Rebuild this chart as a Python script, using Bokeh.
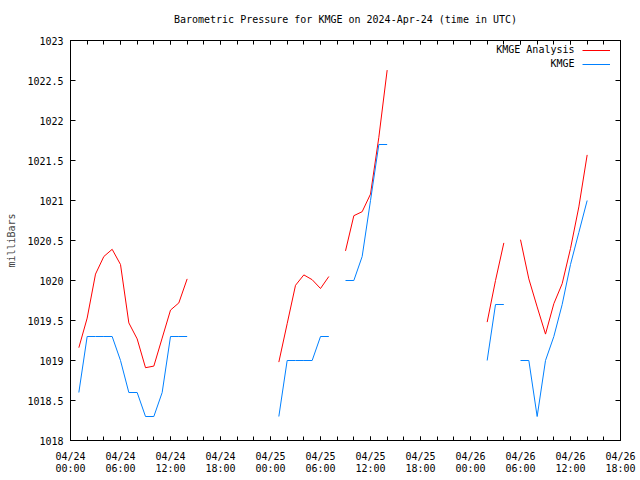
from datetime import datetime, timedelta

from bokeh.plotting import figure
from bokeh.models import (ColumnDataSource, Range1d, FixedTicker, DatetimeTickFormatter,
                          NumeralTickFormatter, CustomJSTickFormatter, DatetimeAxis,
                          LinearAxis, Legend, LegendItem, Label)
from bokeh.embed import file_html
from bokeh.resources import INLINE

nan = float("nan")

# ---------------- data ----------------
title_text = "Barometric Pressure for KMGE on 2024-Apr-24 (time in UTC)"
start_time = datetime(2024, 4, 24, 0, 0)
end_time = datetime(2024, 4, 26, 18, 0)

# hours after 2024-04-24 00:00 UTC (hourly values, NaN = no data)
hour_offsets = list(range(1, 63))

analysis_mb = [
    1019.16, 1019.53, 1020.08, 1020.30, 1020.39, 1020.20, 1019.47, 1019.27, 1018.91, 1018.93,
    1019.28, 1019.63, 1019.72, 1020.02,
    nan, nan, nan, nan, nan, nan, nan, nan, nan, nan,
    1018.98, 1019.46, 1019.94, 1020.07, 1020.01, 1019.90, 1020.05,
    nan,
    1020.37, 1020.81, 1020.86, 1021.08, 1021.79, 1022.63,
    nan, nan, nan, nan, nan, nan, nan, nan, nan, nan, nan,
    1019.48, 1020.00, 1020.47,
    nan,
    1020.51, 1020.02, 1019.67, 1019.33, 1019.71, 1019.96, 1020.40, 1020.92, 1021.57,
]

observed_mb = [
    1018.6, 1019.3, 1019.3, 1019.3, 1019.3, 1019.0, 1018.6, 1018.6, 1018.3, 1018.3,
    1018.6, 1019.3, 1019.3, 1019.3,
    nan, nan, nan, nan, nan, nan, nan, nan, nan, nan,
    1018.3, 1019.0, 1019.0, 1019.0, 1019.0, 1019.3, 1019.3,
    nan,
    1020.0, 1020.0, 1020.3, 1021.0, 1021.7, 1021.7,
    nan, nan, nan, nan, nan, nan, nan, nan, nan, nan, nan,
    1019.0, 1019.7, 1019.7,
    nan,
    1019.0, 1019.0, 1018.3, 1019.0, 1019.3, 1019.7, 1020.2, 1020.6, 1021.0,
]

series_labels = ["KMGE Analysis", "KMGE"]
series_colors = ["#ff0000", "#0080ff"]

x_major_hours = [0, 6, 12, 18, 24, 30, 36, 42, 48, 54, 60, 66]
x_minor_hours = [h for h in range(0, 67, 2)]
y_ticks = [1018, 1018.5, 1019, 1019.5, 1020, 1020.5, 1021, 1021.5, 1022, 1022.5, 1023]
y_label = "milliBars"

# ---------------- build ----------------
EPOCH = datetime(1970, 1, 1)


def ms(h):
    return ((start_time + timedelta(hours=h)) - EPOCH).total_seconds() * 1000.0


times = [start_time + timedelta(hours=h) for h in hour_offsets]
src = ColumnDataSource(dict(time=times, analysis=analysis_mb, observed=observed_mb))

FONT = "DejaVu Sans Mono"
FS = "10px"

p = figure(width=640, height=480, x_axis_type="datetime",
           x_range=Range1d(start_time, end_time), y_range=Range1d(1018, 1023),
           output_backend="svg", toolbar_location=None,
           min_border_left=70, min_border_right=20, min_border_top=40, min_border_bottom=40)
p.grid.visible = False
p.outline_line_color = "black"
p.background_fill_color = "white"
p.border_fill_color = "white"

x_ticker = FixedTicker(ticks=[ms(h) for h in x_major_hours], minor_ticks=[ms(h) for h in x_minor_hours])
y_ticker = FixedTicker(ticks=y_ticks, minor_ticks=[])


def style_axis(ax, tick_len, minor_len):
    ax.major_tick_in = tick_len
    ax.major_tick_out = 0
    ax.minor_tick_in = minor_len
    ax.minor_tick_out = 0
    ax.axis_line_color = "black"
    ax.major_tick_line_color = "black"
    ax.minor_tick_line_color = "black"
    ax.major_label_text_font = FONT
    ax.major_label_text_font_size = FS
    ax.major_label_text_color = "black"


def dt_fmt(fmt):
    return DatetimeTickFormatter(microseconds=fmt, milliseconds=fmt, seconds=fmt, minsec=fmt,
                                 minutes=fmt, hourmin=fmt, hours=fmt, days=fmt, months=fmt, years=fmt)


# bottom axis (dates)
xa = p.xaxis[0]
xa.ticker = x_ticker
xa.formatter = dt_fmt("%m/%d")
style_axis(xa, 4, 4)
xa.major_label_standoff = 10

# second bottom axis (times)
xa2 = DatetimeAxis(ticker=x_ticker, formatter=dt_fmt("%H:%M"))
style_axis(xa2, 0, 0)
xa2.axis_line_color = None
xa2.major_tick_line_color = None
xa2.minor_tick_line_color = None
xa2.major_label_standoff = -2
p.add_layout(xa2, "below")

# left axis
ya = p.yaxis[0]
ya.ticker = y_ticker
ya.formatter = NumeralTickFormatter(format="0.[0]")
style_axis(ya, 5, 0)
ya.major_label_standoff = 7
ya.axis_label = y_label
ya.axis_label_text_font = FONT
ya.axis_label_text_font_size = FS
ya.axis_label_text_font_style = "normal"
ya.axis_label_standoff = 7

empty = CustomJSTickFormatter(code="return ''")

# mirror axes (top one carries the chart title)
xt = DatetimeAxis(ticker=x_ticker, formatter=empty)
style_axis(xt, 4, 4)
xt.major_label_standoff = 0
xt.axis_label = title_text
xt.axis_label_text_font = FONT
xt.axis_label_text_font_size = FS
xt.axis_label_text_font_style = "normal"
xt.axis_label_text_color = "black"
xt.axis_label_standoff = 16
p.add_layout(xt, "above")

yr = LinearAxis(ticker=y_ticker, formatter=empty)
style_axis(yr, 5, 0)
yr.major_label_standoff = 0
p.add_layout(yr, "right")

# series
r_an = p.line(x="time", y="analysis", source=src, line_color=series_colors[0], line_width=1)
r_ob = p.line(x="time", y="observed", source=src, line_color=series_colors[1], line_width=1)

legend = Legend(items=[LegendItem(label="", renderers=[r_an]),
                       LegendItem(label="", renderers=[r_ob])],
                location=(512, 369.5), orientation="vertical",
                padding=0, margin=0, spacing=0,
                glyph_width=28, glyph_height=14, label_width=0, label_height=0,
                label_standoff=0, border_line_color=None, background_fill_alpha=0,
                label_text_font=FONT, label_text_font_size="1px")
p.add_layout(legend, "center")

for i, (lab, yoff) in enumerate(zip(series_labels, [-9, -23])):
    p.add_layout(Label(x=end_time, y=1023, x_offset=-46, y_offset=yoff, text=lab,
                       text_align="right", text_baseline="middle",
                       text_font=FONT, text_font_size=FS, text_color="black"))

open("out.html", "w").write(file_html(p, INLINE))
